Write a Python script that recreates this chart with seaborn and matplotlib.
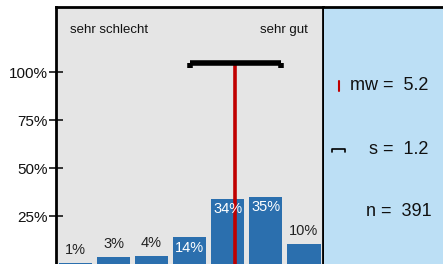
import matplotlib
matplotlib.use("Agg")
import matplotlib.pyplot as plt
import seaborn as sns
import pandas as pd

# data
stufen = [1, 2, 3, 4, 5, 6, 7]
anteile = [0.6, 3.6, 4.2, 14, 34, 35, 10.4]
labels = ["1%", "3%", "4%", "14%", "34%", "35%", "10%"]
mw = 5.2
s = 1.2
n = 391

sns.set_style("white")
plt.rcParams["font.family"] = ["Liberation Sans", "DejaVu Sans"]

W, H = 443, 264
fig = plt.figure(figsize=(W / 100, H / 100), dpi=100)

# main panel
ax = fig.add_axes([56 / W, 0, (323 - 56) / W, (264 - 7) / H])
ax.set_facecolor("#e5e5e5")
df = pd.DataFrame({"stufe": stufen, "anteil": anteile})
sns.barplot(data=df, x="stufe", y="anteil", order=stufen, color="#2b6fae",
            saturation=1, width=0.87, linewidth=0, ax=ax, native_scale=True)
ax.set_xlim(0.49, 7.5)
ax.set_ylim(0, 133.9)
ax.set_xticks([])
ax.set_yticks([25, 50, 75, 100])
ax.set_yticklabels(["25%", "50%", "75%", "100%"], fontsize=11, color="#111111")
ax.tick_params(axis="y", direction="inout", length=10, width=1.3, pad=1, left=True)
ax.set_xlabel("")
ax.set_ylabel("")
for side in ["left", "top", "right"]:
    ax.spines[side].set_linewidth(2)
    ax.spines[side].set_color("black")
ax.spines["bottom"].set_visible(False)

for x, v, lab in zip(stufen, anteile, labels):
    if v > 12:
        ax.text(x, v - 1.8, lab, ha="center", va="top", color="white", fontsize=10.5)
    else:
        ax.text(x, v + 3, lab, ha="center", va="bottom", color="#222222", fontsize=10.5)

# mean line and sd bracket
ax.plot([mw, mw], [0, 103.5], color="#c00000", lw=2.6, solid_capstyle="butt")
ax.plot([mw - s, mw + s], [104.5, 104.5], color="black", lw=4, solid_capstyle="butt")
for xe in [mw - s, mw + s]:
    ax.plot([xe, xe], [104.5, 102], color="black", lw=4, solid_capstyle="butt")

ax.text(0.86, 122, "sehr schlecht", ha="left", va="center", fontsize=9.5, color="#111111")
ax.text(7.1, 122, "sehr gut", ha="right", va="center", fontsize=9.5, color="#111111")

# right info panel
ax2 = fig.add_axes([324 / W, 0, (W - 324) / W, (264 - 7) / H])
ax2.set_facecolor("#bcdff5")
ax2.set_xlim(0, W - 324)
ax2.set_ylim(264 - 7, 0)
ax2.set_xticks([])
ax2.set_yticks([])
for side in ["left", "right", "bottom"]:
    ax2.spines[side].set_visible(False)
ax2.spines["top"].set_linewidth(2)
ax2.spines["top"].set_color("black")

ax2.text(104, 86 - 7, f"mw =  {mw}", ha="right", va="center", fontsize=13, color="#111111")
ax2.text(104, 149 - 7, f"s =  {s}", ha="right", va="center", fontsize=13, color="#111111")
ax2.text(108, 212 - 7, f"n =  {n}", ha="right", va="center", fontsize=13, color="#111111")
ax2.plot([15, 15], [81 - 7, 91 - 7], color="#c00000", lw=1.5)
ax2.plot([8, 8, 21, 21], [151.5 - 7, 148.5 - 7, 148.5 - 7, 151.5 - 7], color="black", lw=1.2)

fig.savefig("out.png", dpi=100)
